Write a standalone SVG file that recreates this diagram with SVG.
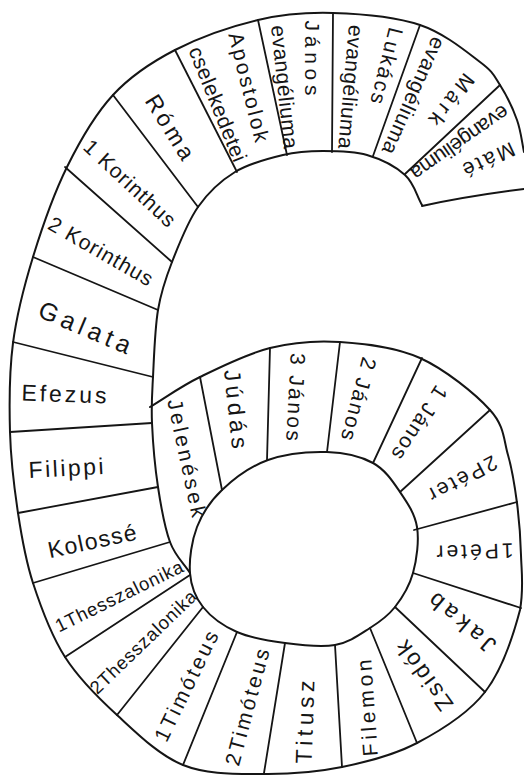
<svg xmlns="http://www.w3.org/2000/svg" width="524" height="777" viewBox="0 0 524 777">
<style>
.ln{fill:none;stroke:#151515;stroke-width:2;stroke-linecap:round;stroke-linejoin:round}
.dv{fill:none;stroke:#151515;stroke-width:1.8;stroke-linecap:round}
.t{font-family:"Liberation Sans","DejaVu Sans",sans-serif;font-size:21px;fill:#151515;text-anchor:middle;dominant-baseline:central}
.s{font-size:18.5px}
.b{font-size:23px}
</style>
<rect width="524" height="777" fill="#ffffff"/>
<g id="outline">
<path class="ln" d="M524,152 C521.7,141.3 521,131.2 517,120 C513,108.8 506.2,94.7 500,85 C493.8,75.3 493.3,72 480,62 C466.7,52 444.5,33.2 420,25 C395.5,16.8 360,13.8 333,13 C306,12.2 284.3,13.8 258,20 C231.7,26.2 199.2,37.5 175,50 C150.8,62.5 131,75.5 113,95 C95,114.5 80.3,140 67,167 C53.7,194 42,227.7 33,257 C24,286.3 16.8,313.8 13,343 C9.2,372.2 9.2,403.7 10,432 C10.8,460.3 14.2,487.8 18,513 C21.8,538.2 25.2,559 33,583 C40.8,607 51,635 65,657 C79,679 97.3,697 117,715 C136.7,733 158.7,755.2 183,765 C207.3,774.8 236.5,773.7 263,774 C289.5,774.3 316.3,772.2 342,767 C367.7,761.8 393.2,755.5 417,743 C440.8,730.5 467.8,714.2 485,692 C502.2,669.8 514,632.8 520,610 C524,587.2 521.5,572.8 521,555 C520.5,537.2 519.2,519.7 517,503 C514.8,486.3 512.5,470.5 508,455 C503.5,439.5 504.7,426.2 490,410 C475.3,393.8 445,369.3 420,358 C395,346.7 365,343.7 340,342 C315,340.3 293.3,342.2 270,348 C246.7,353.8 220,367.2 200,377 C180,386.8 166.7,397 150,407"/>
<path class="ln" d="M422,205 C416.3,195 414.2,183.3 405,175 C395.8,166.7 380.7,159 367,155 C353.3,151 337,151 323,151 C309,151 297.7,151.5 283,155 C268.3,158.5 249.2,163.3 235,172 C220.8,180.7 208.5,192 198,207 C187.5,222 178.7,244.8 172,262 C165.3,279.2 161.2,290.8 158,310 C154.8,329.2 154,358.2 153,377 C152,395.8 151.2,404.7 152,423 C152.8,441.3 155,467.2 158,487 C161,506.8 164.7,527.7 170,542 C175.3,556.3 183.3,562.7 190,573"/>
<path class="ln" d="M190,573 C191,586.3 195.2,597.2 203,607 C210.8,616.8 223.3,626 237,632 C250.7,638 268.7,640.8 285,643 C301.3,645.2 320.8,647.5 335,645 C349.2,642.5 360,634.3 370,628 C380,621.7 387.8,616.2 395,607 C402.2,597.8 409.3,586.3 413,573 C416.7,559.7 419.2,540.5 417,527 C414.8,513.5 407.3,502.7 400,492 C392.7,481.3 385.2,469.7 373,463 C360.8,456.3 344.5,452.5 327,452 C309.5,451.5 285.5,453.7 268,460 C250.5,466.3 233.8,478.8 222,490 C210.2,501.2 202.3,513.2 197,527 C191.7,540.8 189,559.2 190,573 Z"/>
<path class="ln" d="M422,206 Q468,196 524,189"/>
</g>
<g id="dividers">
<line class="dv" x1="500" y1="85" x2="405" y2="174"/>
<line class="dv" x1="420" y1="25" x2="373" y2="156"/>
<line class="dv" x1="333" y1="13" x2="332" y2="152"/>
<line class="dv" x1="258" y1="20" x2="287" y2="155"/>
<line class="dv" x1="175" y1="50" x2="237" y2="172"/>
<line class="dv" x1="113" y1="95" x2="198" y2="207"/>
<line class="dv" x1="65" y1="167" x2="172" y2="262"/>
<line class="dv" x1="33" y1="257" x2="158" y2="310"/>
<line class="dv" x1="13" y1="342" x2="153" y2="377"/>
<line class="dv" x1="10" y1="432" x2="152" y2="423"/>
<line class="dv" x1="18" y1="513" x2="158" y2="487"/>
<line class="dv" x1="33" y1="583" x2="170" y2="542"/>
<line class="dv" x1="65" y1="657" x2="190" y2="575"/>
<line class="dv" x1="117" y1="715" x2="203" y2="607"/>
<line class="dv" x1="183" y1="765" x2="237" y2="632"/>
<line class="dv" x1="264" y1="773" x2="285" y2="643"/>
<line class="dv" x1="342" y1="767" x2="335" y2="645"/>
<line class="dv" x1="417" y1="743" x2="370" y2="628"/>
<line class="dv" x1="485" y1="692" x2="395" y2="607"/>
<line class="dv" x1="521" y1="608" x2="413" y2="573"/>
<line class="dv" x1="517" y1="502" x2="414" y2="530"/>
<line class="dv" x1="490" y1="410" x2="400" y2="492"/>
<line class="dv" x1="422" y1="358" x2="373" y2="463"/>
<line class="dv" x1="340" y1="342" x2="327" y2="452"/>
<line class="dv" x1="270" y1="348" x2="267" y2="460"/>
<line class="dv" x1="200" y1="377" x2="222" y2="490"/>
</g>
<g id="labels">
<g id="mate"><text class="t" transform="translate(489,160) rotate(155)" textLength="55" lengthAdjust="spacing">Máté</text><text class="t" transform="translate(460,143) rotate(145)" textLength="115" lengthAdjust="spacing">evangéliuma</text></g>
<g id="mark"><text class="t" transform="translate(452,100) rotate(128)" textLength="60" lengthAdjust="spacing">Márk</text><text class="t" transform="translate(414,96) rotate(114)" textLength="126" lengthAdjust="spacing">evangéliuma</text></g>
<g id="lukacs"><text class="t" transform="translate(387,66) rotate(104)" textLength="78" lengthAdjust="spacing">Lukács</text><text class="t" transform="translate(351,87) rotate(95)" textLength="124" lengthAdjust="spacing">evangéliuma</text></g>
<g id="janos-ev"><text class="t" transform="translate(312,58) rotate(90)" textLength="75" lengthAdjust="spacing">János</text><text class="t" transform="translate(285,87) rotate(84)" textLength="124" lengthAdjust="spacing">evangéliuma</text></g>
<g id="apcsel"><text class="t" transform="translate(249,87) rotate(76)" textLength="112" lengthAdjust="spacing">Apostolok</text><text class="t" transform="translate(218,104) rotate(68)" textLength="122" lengthAdjust="spacing">cselekedetei</text></g>
<g id="roma"><text class="t b" transform="translate(170,127) rotate(58)" textLength="72" lengthAdjust="spacing">Róma</text></g>
<g id="kor1"><text class="t" transform="translate(130,183) rotate(43)" textLength="117" lengthAdjust="spacing">1 Korinthus</text></g>
<g id="kor2"><text class="t" transform="translate(101,251) rotate(30)" textLength="117" lengthAdjust="spacing">2 Korinthus</text></g>
<g id="galata"><text class="t" style="font-size:25px" transform="translate(85,327) rotate(23)" textLength="98" lengthAdjust="spacing">Galata</text></g>
<g id="efezus"><text class="t b" transform="translate(64,394) rotate(2)" textLength="85" lengthAdjust="spacing">Efezus</text></g>
<g id="filippi"><text class="t b" transform="translate(66,468) rotate(-3)" textLength="75" lengthAdjust="spacing">Filippi</text></g>
<g id="kolosse"><text class="t b" transform="translate(92,541) rotate(-12)" textLength="90" lengthAdjust="spacing">Kolossé</text></g>
<g id="thessz1"><text class="t s" transform="translate(119,596) rotate(-26)" textLength="140" lengthAdjust="spacing">1Thesszalonika</text></g>
<g id="thessz2"><text class="t s" transform="translate(143,642) rotate(-44)" textLength="140" lengthAdjust="spacing">2Thesszalonika</text></g>
<g id="tim1"><text class="t" transform="translate(186,686) rotate(-64)" textLength="120" lengthAdjust="spacing">1Timóteus</text></g>
<g id="tim2"><text class="t" transform="translate(247,707) rotate(-75)" textLength="120" lengthAdjust="spacing">2Timóteus</text></g>
<g id="titusz"><text class="t b" transform="translate(305,722) rotate(-88)" textLength="83" lengthAdjust="spacing">Titusz</text></g>
<g id="filemon"><text class="t" transform="translate(367,708) rotate(-94)" textLength="97" lengthAdjust="spacing">Filemon</text></g>
<g id="zsidok"><text class="t b" transform="translate(424,676) rotate(-126)" textLength="81" lengthAdjust="spacing">Zsidók</text></g>
<g id="jakab"><text class="t b" transform="translate(462,623) rotate(-140)" textLength="80" lengthAdjust="spacing">Jakab</text></g>
<g id="peter1"><text class="t" transform="translate(475,552) rotate(178)" textLength="77" lengthAdjust="spacing">1Péter</text></g>
<g id="peter2"><text class="t" transform="translate(463,479) rotate(152)" textLength="75" lengthAdjust="spacing">2Péter</text></g>
<g id="janos1"><text class="t" transform="translate(420,423) rotate(123)" textLength="84" lengthAdjust="spacing">1 János</text></g>
<g id="janos2"><text class="t" transform="translate(359,399) rotate(105)" textLength="85" lengthAdjust="spacing">2 János</text></g>
<g id="janos3"><text class="t" transform="translate(296,397) rotate(93)" textLength="88" lengthAdjust="spacing">3 János</text></g>
<g id="judas"><text class="t b" transform="translate(236,409) rotate(84)" textLength="79" lengthAdjust="spacing">Júdás</text></g>
<g id="jelenesek"><text class="t" transform="translate(187,458) rotate(78)" textLength="120" lengthAdjust="spacing">Jelenések</text></g>
</g>
</svg>
